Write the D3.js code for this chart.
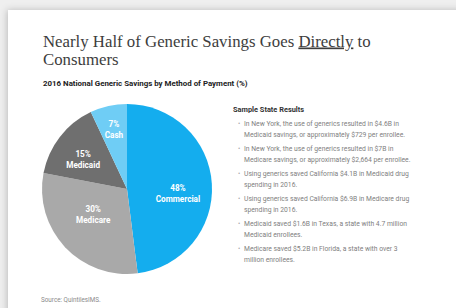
<!DOCTYPE html>
<html>
<head>
<meta charset="utf-8">
<script src="https://cdn.jsdelivr.net/npm/d3@7/dist/d3.min.js"></script>
<style>
  html, body { margin: 0; padding: 0; background: #efefef; }
  svg { display: block; }
</style>
</head>
<body>
<svg id="chart" width="456" height="308"></svg>
<script>
// ---- data ----
const categories = ["Commercial", "Medicare", "Medicaid", "Cash"];
const shares = [48, 30, 15, 7];
const sliceColors = ["#14adee", "#a9a9a9", "#6f6f6f", "#6fcdf5"];

const titleLine1 = "Nearly Half of Generic Savings Goes ";
const titleEmph = "Directly";
const titleLine1End = " to";
const titleLine2 = "Consumers";
const subtitle = "2016 National Generic Savings by Method of Payment (%)";
const sideHeading = "Sample State Results";
const bullets = [
  ["In New York, the use of generics resulted in $4.6B in", "Medicaid savings, or approximately $729 per enrollee."],
  ["In New York, the use of generics resulted in $7B in", "Medicare savings, or approximately $2,664 per enrollee."],
  ["Using generics saved California $4.1B in Medicaid drug", "spending in 2016."],
  ["Using generics saved California $6.9B in Medicare drug", "spending in 2016."],
  ["Medicaid saved $1.6B in Texas, a state with 4.7 million", "Medicaid enrollees."],
  ["Medicare saved $5.2B in Florida, a state with over 3", "million enrollees."]
];
const sourceNote = "Source: QuintilesIMS.";

// ---- layout ----
const labelRadius = [51, 45, 53, 60];
const labelNudge = [[0, 7], [-1, -6], [-2, 2], [0, -1]];

const svg = d3.select("#chart");

const defs = svg.append("defs");
const f = defs.append("filter").attr("id", "shadow")
  .attr("x", "-10%").attr("y", "-10%").attr("width", "120%").attr("height", "120%");
f.append("feDropShadow").attr("dx", -1).attr("dy", 0).attr("stdDeviation", 3.5)
  .attr("flood-color", "#000").attr("flood-opacity", 0.22);

// card
svg.append("rect").attr("x", 8).attr("y", 10).attr("width", 470).attr("height", 320)
  .attr("fill", "#ffffff").attr("filter", "url(#shadow)");

// title
const t = svg.append("text").attr("x", 43).attr("y", 46.5)
  .attr("font-family", "Liberation Serif, serif").attr("font-size", 16.8)
  .attr("fill", "#3d3d3d");
t.append("tspan").text(titleLine1);
t.append("tspan").attr("text-decoration", "underline").text(titleEmph);
t.append("tspan").text(titleLine1End);
svg.append("text").attr("x", 43).attr("y", 64.5)
  .attr("font-family", "Liberation Serif, serif").attr("font-size", 16.8)
  .attr("fill", "#3d3d3d").text(titleLine2);

svg.append("text").attr("x", 43).attr("y", 86)
  .attr("font-family", "Roboto, sans-serif").attr("font-weight", "bold")
  .attr("font-size", 7.9).attr("fill", "#222").text(subtitle);

// pie
const cx = 127, cy = 189, R = 85;
const pie = d3.pie().sort(null).value(d => d)(shares);
const arc = d3.arc().innerRadius(0).outerRadius(R);
const g = svg.append("g").attr("transform", `translate(${cx},${cy})`);
g.selectAll("path").data(pie).join("path")
  .attr("d", arc)
  .attr("fill", (d, i) => sliceColors[i]);

const lbl = g.selectAll("g.lbl").data(pie).join("g").attr("class", "lbl")
  .attr("transform", (d, i) => {
    const c = d3.arc().innerRadius(labelRadius[i]).outerRadius(labelRadius[i]).centroid(d);
    return `translate(${c[0] + labelNudge[i][0]},${c[1] + labelNudge[i][1]})`;
  });
lbl.append("text").attr("text-anchor", "middle").attr("y", -2)
  .attr("font-family", "Roboto, sans-serif").attr("font-weight", "bold")
  .attr("font-size", 8.2).attr("fill", "#fff")
  .text((d, i) => shares[i] + "%");
lbl.append("text").attr("text-anchor", "middle").attr("y", 9)
  .attr("font-family", "Roboto, sans-serif").attr("font-weight", "bold")
  .attr("font-size", 8.2).attr("fill", "#fff")
  .text((d, i) => categories[i]);

// side panel
svg.append("text").attr("x", 233).attr("y", 112)
  .attr("font-family", "Roboto, sans-serif").attr("font-weight", "bold")
  .attr("font-size", 7.4).attr("fill", "#333").text(sideHeading);

const bg = svg.selectAll("g.bullet").data(bullets).join("g").attr("class", "bullet")
  .attr("transform", (d, i) => `translate(0, ${126 + i * 25})`);
bg.append("text").attr("x", 238).attr("y", 0)
  .attr("font-family", "Roboto, sans-serif").attr("font-size", 6.7)
  .attr("fill", "#aaa").text("•");
bg.selectAll("text.line").data(d => d).join("text").attr("class", "line")
  .attr("x", 244).attr("y", (d, j) => j * 10.8)
  .attr("font-family", "Roboto, sans-serif").attr("font-size", 6.75)
  .attr("fill", "#808080").text(d => d);

svg.append("text").attr("x", 41).attr("y", 302)
  .attr("font-family", "Roboto, sans-serif").attr("font-size", 6.3)
  .attr("fill", "#8a8a8a").text(sourceNote);
</script>
</body>
</html>
